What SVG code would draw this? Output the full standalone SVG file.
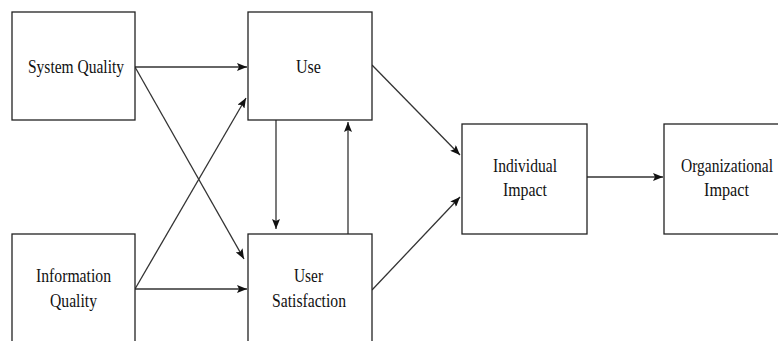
<svg xmlns="http://www.w3.org/2000/svg" width="778" height="341" viewBox="0 0 778 341">
<style>
.box{fill:#fff;stroke:#222;stroke-width:1.3}
.lbl{font-family:"Liberation Serif","Times New Roman",serif;font-size:19px;fill:#111;text-anchor:middle}
.edge{fill:none;stroke:#333;stroke-width:1.3}
</style>
<defs>
<marker id="ah" viewBox="0 0 10 8" refX="10" refY="4" markerWidth="10" markerHeight="8" markerUnits="userSpaceOnUse" orient="auto">
<path d="M0,0 L10,4 L0,8 L2,4 Z" fill="#111"/>
</marker>
</defs>
<rect width="778" height="341" fill="#fff"/>
<g id="edges">
<line class="edge" x1="135" y1="67" x2="247" y2="67" marker-end="url(#ah)"/>
<line class="edge" x1="135" y1="67" x2="244" y2="259" marker-end="url(#ah)"/>
<line class="edge" x1="135" y1="289" x2="246" y2="98" marker-end="url(#ah)"/>
<line class="edge" x1="135" y1="289" x2="247" y2="289" marker-end="url(#ah)"/>
<line class="edge" x1="276" y1="120" x2="276" y2="229" marker-end="url(#ah)"/>
<line class="edge" x1="348" y1="234" x2="348" y2="122" marker-end="url(#ah)"/>
<line class="edge" x1="372" y1="65" x2="460" y2="155" marker-end="url(#ah)"/>
<line class="edge" x1="372" y1="290" x2="460" y2="197" marker-end="url(#ah)"/>
<line class="edge" x1="587" y1="177" x2="663" y2="177" marker-end="url(#ah)"/>
</g>
<g id="system-quality">
<rect class="box" x="12" y="12" width="123" height="108"/>
<text class="lbl" x="76" y="73" textLength="96" lengthAdjust="spacingAndGlyphs">System Quality</text>
</g>
<g id="use">
<rect class="box" x="248" y="12" width="124" height="108"/>
<text class="lbl" x="308.5" y="73" textLength="25" lengthAdjust="spacingAndGlyphs">Use</text>
</g>
<g id="information-quality">
<rect class="box" x="12" y="234" width="123" height="120"/>
<text class="lbl" x="73.5" y="282" textLength="75" lengthAdjust="spacingAndGlyphs">Information</text>
<text class="lbl" x="73.5" y="307" textLength="47" lengthAdjust="spacingAndGlyphs">Quality</text>
</g>
<g id="user-satisfaction">
<rect class="box" x="248" y="234" width="124" height="120"/>
<text class="lbl" x="308.5" y="282" textLength="29" lengthAdjust="spacingAndGlyphs">User</text>
<text class="lbl" x="309" y="307" textLength="74" lengthAdjust="spacingAndGlyphs">Satisfaction</text>
</g>
<g id="individual-impact">
<rect class="box" x="462" y="124" width="125" height="110"/>
<text class="lbl" x="525" y="172" textLength="64" lengthAdjust="spacingAndGlyphs">Individual</text>
<text class="lbl" x="525" y="196" textLength="44" lengthAdjust="spacingAndGlyphs">Impact</text>
</g>
<g id="organizational-impact">
<rect class="box" x="664" y="124" width="126" height="110"/>
<text class="lbl" x="727" y="172" textLength="92" lengthAdjust="spacingAndGlyphs">Organizational</text>
<text class="lbl" x="726.5" y="196" textLength="45" lengthAdjust="spacingAndGlyphs">Impact</text>
</g>
</svg>
